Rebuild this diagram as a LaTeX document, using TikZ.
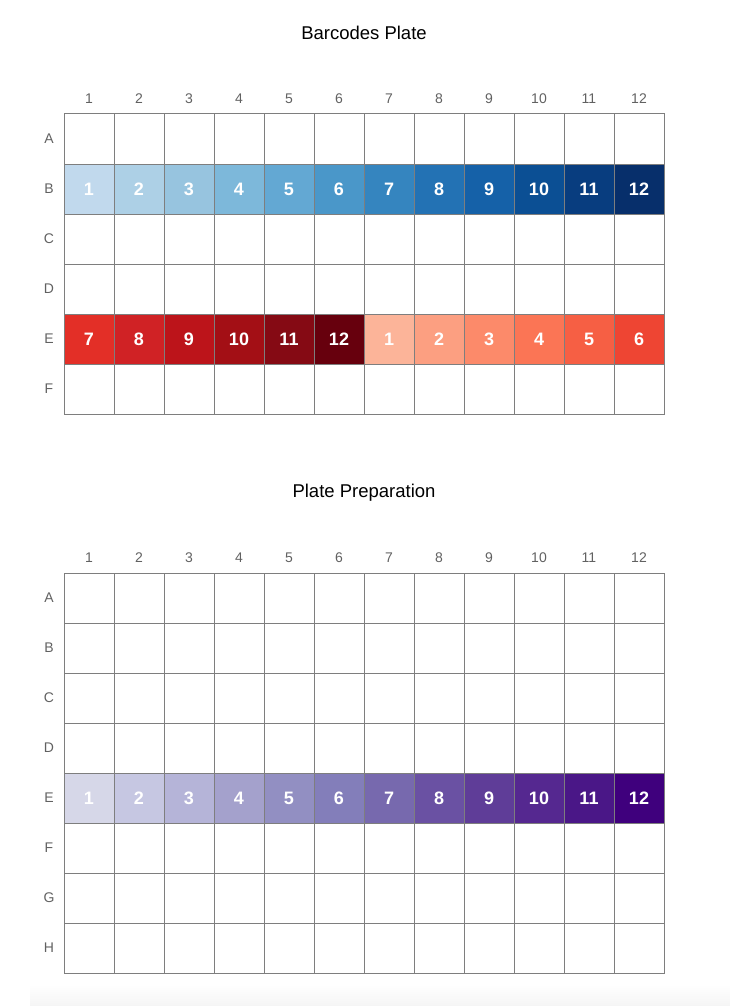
\documentclass[tikz,border=0pt]{standalone}
\usepackage{fontspec}
\setmainfont{Liberation Sans}
\usetikzlibrary{positioning}
\definecolor{gridc}{HTML}{7E7E7E}
\definecolor{soft}{HTML}{616161}
% blues
\definecolor{b1}{HTML}{C1D9ED}\definecolor{b2}{HTML}{ADD0E6}\definecolor{b3}{HTML}{97C4DF}
\definecolor{b4}{HTML}{7DB8DA}\definecolor{b5}{HTML}{63A8D3}\definecolor{b6}{HTML}{4A97C9}
\definecolor{b7}{HTML}{3585BF}\definecolor{b8}{HTML}{2372B4}\definecolor{b9}{HTML}{1561A8}
\definecolor{b10}{HTML}{0B4F94}\definecolor{b11}{HTML}{083D7F}\definecolor{b12}{HTML}{072F6B}
% reds
\definecolor{r1}{HTML}{FCB499}\definecolor{r2}{HTML}{FC9F81}\definecolor{r3}{HTML}{FC8A6A}
\definecolor{r4}{HTML}{FB7555}\definecolor{r5}{HTML}{F65F44}\definecolor{r6}{HTML}{EE4533}
\definecolor{r7}{HTML}{E32F27}\definecolor{r8}{HTML}{D02225}\definecolor{r9}{HTML}{BC141A}
\definecolor{r10}{HTML}{A30F15}\definecolor{r11}{HTML}{850A14}\definecolor{r12}{HTML}{67000D}
% purples
\definecolor{p1}{HTML}{D6D7E8}\definecolor{p2}{HTML}{C6C7E2}\definecolor{p3}{HTML}{B5B4D8}
\definecolor{p4}{HTML}{A4A1CC}\definecolor{p5}{HTML}{928FC2}\definecolor{p6}{HTML}{837EBA}
\definecolor{p7}{HTML}{7769AE}\definecolor{p8}{HTML}{6A51A3}\definecolor{p9}{HTML}{5F3D98}
\definecolor{p10}{HTML}{552890}\definecolor{p11}{HTML}{4A1787}\definecolor{p12}{HTML}{3F007D}

\begin{document}
\begin{tikzpicture}[x=1pt,y=-1pt,
  well/.style={draw=gridc,line width=1pt,minimum size=50pt,inner sep=0pt,outer sep=0pt,fill=white},
  num/.style={text=white,font=\bfseries\fontsize{18}{21}\selectfont},
  lbl/.style={text=soft,font=\fontsize{14}{16}\selectfont},
  ttl/.style={font=\fontsize{18.5}{22}\selectfont}]
\useasboundingbox (0,0) rectangle (730,1006);
\shade[top color=white,bottom color=black!4] (30,984) rectangle (730,1006);
% barcodes plate
\node[ttl](ttitle) at (364,33){Barcodes Plate};
\foreach \c in {1,...,12}\node[lbl](tcol\c) at ({39+50*\c},99){\c};
\foreach \r [count=\i] in {A,...,F}{
  \node[lbl](trow\r) at (49,{89+50*\i}){\r};
  \foreach \c in {1,...,12}\node[well](t\r\c) at ({39+50*\c},{89+50*\i}){};}
\foreach \c in {1,...,12}\node[well,fill=b\c,num](tb\c) at (tB\c){\c};
\foreach \c [evaluate=\c as \v using {int(mod(\c+5,12)+1)}] in {1,...,12}
  \node[well,fill=r\v,num](te\c) at (tE\c){\v};
% plate preparation
\node[ttl](btitle) at (364,493){Plate Preparation};
\foreach \c in {1,...,12}\node[lbl](bcol\c) at ({39+50*\c},558){\c};
\foreach \r [count=\i] in {A,...,H}{
  \node[lbl](brow\r) at (49,{548+50*\i}){\r};
  \foreach \c in {1,...,12}\node[well](b\r\c) at ({39+50*\c},{548+50*\i}){};}
\foreach \c in {1,...,12}\node[well,fill=p\c,num](be\c) at (bE\c){\c};
\end{tikzpicture}
\end{document}
